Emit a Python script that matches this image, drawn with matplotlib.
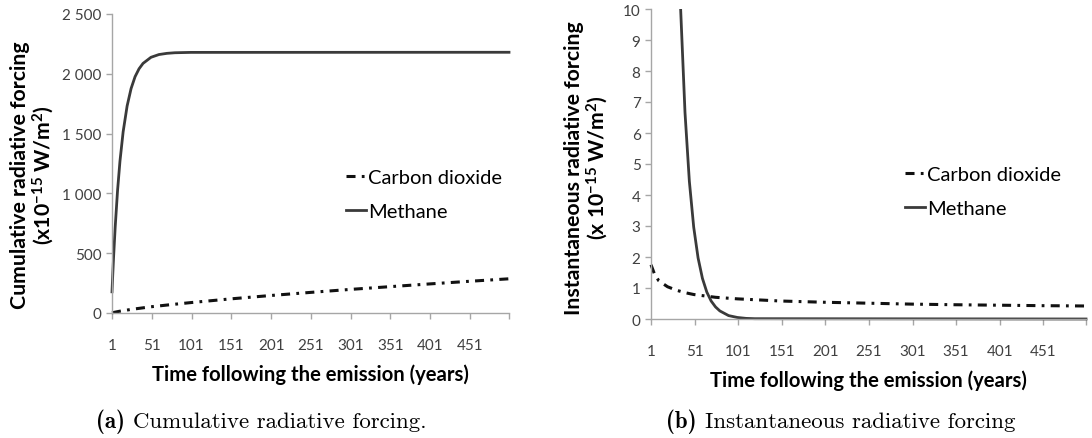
import matplotlib
matplotlib.use("Agg")
import matplotlib.pyplot as plt
from matplotlib.transforms import Bbox, TransformedBbox

# ---- data -------------------------------------------------------------
cum_ch4_years = [1, 2, 3, 5, 8, 11, 15, 20, 25, 30, 35, 40, 50, 60, 70, 80, 100, 500]
cum_ch4_vals = [177, 329, 469, 718, 1026, 1269, 1515, 1731, 1877, 1976, 2042, 2087,
                2138, 2161, 2171, 2176, 2179, 2180]

cum_co2_years = [1, 10, 25, 50, 75, 100, 150, 200, 250, 300, 350, 400, 450, 500]
cum_co2_vals = [1.7, 14, 30, 52, 70, 87, 118, 146, 172, 197, 220, 243, 265, 286]

inst_ch4_years = [1, 5, 10, 15, 20, 25, 30, 35, 40, 45, 50, 55, 60, 65, 70, 75, 80,
                  90, 100, 110, 120, 500]
inst_ch4_vals = [170, 120, 80, 52, 34, 22.5, 15, 10, 6.66, 4.44, 2.96, 1.97, 1.31,
                 0.87, 0.58, 0.39, 0.26, 0.11, 0.05, 0.02, 0.01, 0.0]

inst_co2_years = [1, 5, 10, 20, 30, 40, 50, 75, 100, 150, 200, 250, 300, 350, 400,
                  450, 500]
inst_co2_vals = [1.75, 1.45, 1.23, 1.04, 0.93, 0.85, 0.79, 0.70, 0.65, 0.58, 0.54,
                 0.51, 0.48, 0.46, 0.445, 0.43, 0.42]

x_ticks = [1, 51, 101, 151, 201, 251, 301, 351, 401, 451]
cum_yticks = [0, 500, 1000, 1500, 2000, 2500]
cum_yticklabels = ["0", "500", "1 000", "1 500", "2 000", "2 500"]
inst_yticks = list(range(0, 11))

# ---- style ------------------------------------------------------------
plt.rcParams["font.family"] = ["Lato", "DejaVu Sans"]
plt.rcParams["mathtext.fontset"] = "custom"
plt.rcParams["mathtext.rm"] = "Lato:bold"
plt.rcParams["mathtext.it"] = "Lato:bold"
plt.rcParams["mathtext.bf"] = "Lato:bold"
plt.rcParams["lines.scale_dashes"] = False

W, H = 1092, 439
AXIS_GREY = "#a6a6a6"
TICK_TEXT = "#404040"
CH4_COLOR = "#3a3a3a"
CO2_COLOR = "#111111"
DASHDOT = (0, (6.5, 4.5, 2.0, 4.5))

fig = plt.figure(figsize=(W / 100, H / 100), dpi=100)
ax1 = fig.add_axes([112 / W, 1 - 314 / H, 397 / W, 299 / H])
ax2 = fig.add_axes([651 / W, 1 - 320 / H, 435 / W, 310 / H])


def style_axes(ax):
    for side in ("top", "right"):
        ax.spines[side].set_visible(False)
    for side in ("left", "bottom"):
        ax.spines[side].set_color(AXIS_GREY)
        ax.spines[side].set_linewidth(1.0)
    ax.tick_params(axis="both", colors=AXIS_GREY, labelcolor=TICK_TEXT,
                   direction="out", length=4, width=1.0, labelsize=11)
    ax.set_xlim(1, 500)
    ax.set_xticks(x_ticks + [500])
    ax.set_xticklabels([str(t) for t in x_ticks] + [""])
    ax.tick_params(axis="x", pad=14)
    ax.set_xlabel("Time following the emission (years)", fontsize=14.6,
                  fontweight="bold", labelpad=8)
    ax.set_facecolor("white")


def loose_clip(line, ax):
    line.set_clip_box(TransformedBbox(Bbox([[-0.01, -0.03], [1.01, 1.0]]), ax.transAxes))


LEGEND_KW = dict(loc="upper left", frameon=False, fontsize=14.5, handlelength=1.0,
                 handletextpad=0.1, labelspacing=0.85, borderaxespad=0)

# ---- (a) cumulative ---------------------------------------------------
style_axes(ax1)
ax1.set_ylim(0, 2500)
ax1.set_yticks(cum_yticks)
ax1.set_yticklabels(cum_yticklabels)
l_co2, = ax1.plot(cum_co2_years, cum_co2_vals, color=CO2_COLOR, lw=2.2,
                  linestyle=DASHDOT, label="Carbon dioxide")
l_ch4, = ax1.plot(cum_ch4_years, cum_ch4_vals, color=CH4_COLOR, lw=2.0,
                  label="Methane")
for ln in (l_co2, l_ch4):
    loose_clip(ln, ax1)
ax1.legend(bbox_to_anchor=(0.57, 0.51), **LEGEND_KW)

# ---- (b) instantaneous ------------------------------------------------
style_axes(ax2)
ax2.set_ylim(0, 10)
ax2.set_yticks(inst_yticks)
m_co2, = ax2.plot(inst_co2_years, inst_co2_vals, color=CO2_COLOR, lw=2.2,
                  linestyle=DASHDOT, label="Carbon dioxide")
m_ch4, = ax2.plot(inst_ch4_years, inst_ch4_vals, color=CH4_COLOR, lw=2.0,
                  label="Methane")
for ln in (m_co2, m_ch4):
    loose_clip(ln, ax2)
ax2.legend(bbox_to_anchor=(0.565, 0.52), **LEGEND_KW)

# ---- y-axis titles (two centred lines, rotated) -----------------------
for cx, cy, txt in ((33, 175, "Cumulative radiative forcing\n(x10$^{-15}$ W/m$^{2}$)"),
                    (587, 168, "Instantaneous radiative forcing\n(x 10$^{-15}$ W/m$^{2}$)")):
    fig.text(cx / W, 1 - cy / H, txt, rotation=90, ha="center", va="center",
             multialignment="center", fontsize=15.3, fontweight="bold",
             linespacing=1.05)

# ---- sub-captions -----------------------------------------------------
fig.canvas.draw()
renderer = fig.canvas.get_renderer()
for cx, tag, text in ((261, "(a)", "Cumulative radiative forcing."),
                      (841, "(b)", "Instantaneous radiative forcing")):
    t_tag = fig.text(0, 1 - 422 / H, tag, family="cmb10", fontsize=16.5,
                     va="center", ha="left")
    t_txt = fig.text(0, 1 - 422 / H, text, family="cmr10", fontsize=16.5,
                     va="center", ha="left")
    w_tag = t_tag.get_window_extent(renderer).width
    w_txt = t_txt.get_window_extent(renderer).width
    gap = 8
    x0 = cx - (w_tag + gap + w_txt) / 2
    t_tag.set_x(x0 / W)
    t_txt.set_x((x0 + w_tag + gap) / W)

fig.savefig("out.png", dpi=100, facecolor="white")
